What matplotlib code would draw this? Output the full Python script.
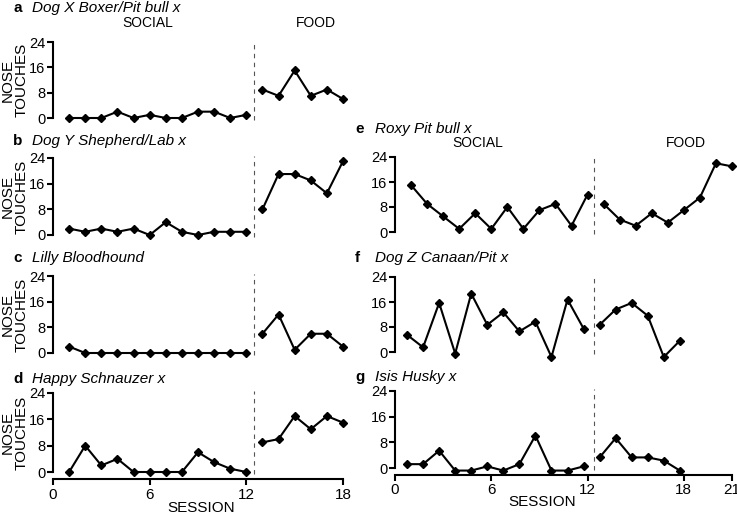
import matplotlib
matplotlib.use('Agg')
import matplotlib.pyplot as plt

plt.rcParams['font.family'] = ['Liberation Sans', 'DejaVu Sans']

# ---------------- data ----------------
social_sessions = list(range(1, 13))
food_sessions_18 = list(range(13, 19))
food_sessions_21 = list(range(13, 22))

a_social = [0, 0, 0, 2, 0, 1, 0, 0, 2, 2, 0, 1]
a_food = [9, 7, 15, 7, 9, 6]
b_social = [2, 1, 2, 1, 2, 0, 4, 1, 0, 1, 1, 1]
b_food = [8, 19, 19, 17, 13, 23]
c_social = [2, 0, 0, 0, 0, 0, 0, 0, 0, 0, 0, 0]
c_food = [6, 12, 1, 6, 6, 2]
d_social = [0, 8, 2, 4, 0, 0, 0, 0, 6, 3, 1, 0]
d_food = [9, 10, 17, 13, 17, 15]
e_social = [15, 9, 5, 1, 6, 1, 8, 1, 7, 9, 2, 12]
e_food = [9, 4, 2, 6, 3, 7, 11, 22, 21]
f_social = [5.5, 1.5, 15.7, -0.5, 18.7, 8.7, 12.7, 6.6, 9.7, -1.6, 16.8, 7.5]
f_food = [8.7, 13.6, 15.7, 11.6, -1.6, 3.6]
g_social = [1.2, 1.2, 5.4, -0.8, -0.8, 0.5, -0.8, 1.2, 10.1, -0.8, -0.8, 0.5]
g_food = [3.3, 9.3, 3.3, 3.3, 2.3, -0.8]

titles = {
    'a': 'Dog X Boxer/Pit bull x',
    'b': 'Dog Y Shepherd/Lab x',
    'c': 'Lilly Bloodhound',
    'd': 'Happy Schnauzer x',
    'e': 'Roxy Pit bull x',
    'f': 'Dog Z Canaan/Pit x',
    'g': 'Isis Husky x',
}
y_ticks = [0, 8, 16, 24]
x_ticks_left = [0, 6, 12, 18]
x_ticks_right = [0, 6, 12, 18, 21]

# ---------------- layout ----------------
W, H = 737, 515
fig = plt.figure(figsize=(W / 100, H / 100), dpi=100)

YLO, YHI = -2.2, 24.3


def make_axes(px_left, px_w, p24, p0):
    s = (p0 - p24) / 24.0
    top = p24 - (YHI - 24) * s
    bot = p0 + (0 - YLO) * s
    return fig.add_axes([px_left / W, 1 - bot / H, px_w / W, (bot - top) / H])


panels = [
    # key, left px, width px, p24, p0, social, food, food sessions, xmax, xshift, bottom axis, dash x, side
    ('a', 53, 290, 42, 118, a_social, a_food, food_sessions_18, 18, 0.0, False, 12.5, 'L'),
    ('b', 53, 290, 158, 235, b_social, b_food, food_sessions_18, 18, 0.0, False, 12.5, 'L'),
    ('c', 53, 290, 276, 353, c_social, c_food, food_sessions_18, 18, 0.0, False, 12.5, 'L'),
    ('d', 53, 290, 393, 472, d_social, d_food, food_sessions_18, 18, 0.0, True, 12.5, 'L'),
    ('e', 395, 337, 157, 232, e_social, e_food, food_sessions_21, 21, 0.0, False, 12.37, 'R'),
    ('f', 395, 337, 277, 352, f_social, f_food, food_sessions_18, 21, -0.25, False, 12.37, 'R'),
    ('g', 395, 337, 391, 468, g_social, g_food, food_sessions_18, 21, -0.25, True, 12.37, 'R'),
]

line_kw = dict(color='black', lw=1.5, marker='D', markersize=4.2, clip_on=False, zorder=3)

for (key, pl, pw, p24, p0, soc, food, fs, xmax, xs, bottom, dashx, side) in panels:
    ax = make_axes(pl, pw, p24, p0)
    ax.set_xlim(0, xmax)
    ax.set_ylim(YLO, YHI)
    ax.plot([x + xs for x in social_sessions], soc, **line_kw)
    ax.plot([x + xs for x in fs], food, **line_kw)
    ax.plot([dashx, dashx], [-0.5, 24.5], color='#555555', lw=0.8,
            ls=(0, (4, 4)), clip_on=False, zorder=1)
    for sp in ['top', 'right']:
        ax.spines[sp].set_visible(False)
    ax.spines['left'].set_bounds(0, 24)
    ax.spines['left'].set_linewidth(1.5)
    ax.set_yticks(y_ticks)
    ax.tick_params(axis='y', direction='out', length=4, width=1.5, pad=1.5, labelsize=10.5)
    if bottom:
        ax.spines['bottom'].set_linewidth(1.5)
        ax.spines['bottom'].set_bounds(0, xmax)
        ax.set_xticks(x_ticks_left if side == 'L' else x_ticks_right)
        ax.tick_params(axis='x', direction='out', length=4, width=1.5, pad=2, labelsize=11)
    else:
        ax.spines['bottom'].set_visible(False)
        ax.set_xticks([])
    ax.patch.set_visible(False)

# ---------------- text ----------------
def ftext(px, py, s, **kw):
    fig.text(px / W, 1 - py / H, s, **kw)


title_pos = {
    'a': (13, 32, 12), 'b': (13, 32, 145), 'c': (13, 32, 262), 'd': (13, 32, 383),
    'e': (355, 375, 133), 'f': (355, 375, 262), 'g': (355, 375, 381),
}
for k, (lx, nx, by) in title_pos.items():
    ftext(lx, by, k, fontsize=11, fontweight='bold', va='baseline', ha='left')
    ftext(nx, by, titles[k], fontsize=11, fontstyle='italic', va='baseline', ha='left')

for (p24, p0) in [(42, 118), (158, 235), (276, 353), (393, 472)]:
    ftext(14.5, (p24 + p0) / 2, 'NOSE\nTOUCHES', rotation=90, fontsize=11,
          ha='center', va='center', linespacing=0.95, multialignment='center')

ftext(147.5, 23, 'SOCIAL', fontsize=10, ha='center', va='center')
ftext(316, 23, 'FOOD', fontsize=10, ha='center', va='center')
ftext(478, 143, 'SOCIAL', fontsize=10, ha='center', va='center')
ftext(686, 143, 'FOOD', fontsize=10, ha='center', va='center')

ftext(201, 508, 'SESSION', fontsize=11, ha='center', va='center')
ftext(542, 502, 'SESSION', fontsize=11, ha='center', va='center')

fig.savefig('out.png', dpi=100)
